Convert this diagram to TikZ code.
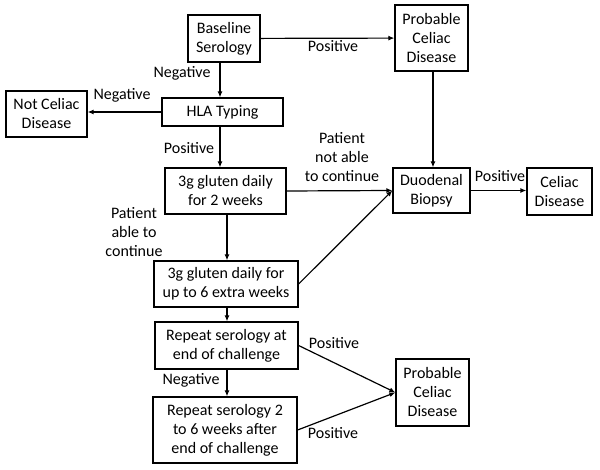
\documentclass[tikz,border=0pt]{standalone}
\usepackage{fontspec}
\setmainfont{Carlito}
\usetikzlibrary{arrows.meta}
\begin{document}
\begin{tikzpicture}[x=1pt,y=-1pt,
  box/.style={draw,line width=1.2pt,align=center,inner sep=0pt,font=\fontsize{16}{19}\selectfont},
  lbl/.style={align=center,inner sep=0pt,font=\fontsize{16}{19}\selectfont},
  arr/.style={line width=1.2pt,-{Latex[length=6pt,width=5pt]}}]
\useasboundingbox (0,0) rectangle (600,470);
\node[box,minimum width=72pt,minimum height=47pt] (base) at (224,38.5) {Baseline\\Serology};
\node[box,minimum width=73pt,minimum height=66pt] (prob1) at (431.5,38) {Probable\\Celiac\\Disease};
\node[box,minimum width=121pt,minimum height=28pt] (hla) at (222.5,112) {HLA Typing};
\node[box,minimum width=81pt,minimum height=46pt] (notc) at (46.5,114) {Not Celiac\\Disease};
\node[box,minimum width=121pt,minimum height=46pt] (g2) at (225.5,191) {3g gluten daily\\for 2 weeks};
\node[box,minimum width=77pt,minimum height=45pt] (duo) at (431.5,190.5) {Duodenal\\Biopsy};
\node[box,minimum width=65pt,minimum height=47pt] (cel) at (559.5,191.5) {Celiac\\Disease};
\node[box,minimum width=144pt,minimum height=46pt] (ext) at (226,284) {3g gluten daily for\\up to 6 extra weeks};
\node[box,minimum width=143pt,minimum height=47pt] (rep) at (226.5,345.5) {Repeat serology at\\end of challenge};
\node[box,minimum width=144pt,minimum height=66pt] (rep2) at (225,430) {Repeat serology 2\\to 6 weeks after\\end of challenge};
\node[box,minimum width=73pt,minimum height=67pt] (prob2) at (432.5,392.5) {Probable\\Celiac\\Disease};
% labels
\node[lbl] (lpos1) at (333,46) {Positive};
\node[lbl] (lneg1) at (182,73) {Negative};
\node[lbl] (lneg2) at (122,95) {Negative};
\node[lbl] (lpos2) at (189,148) {Positive};
\node[lbl] (lnot) at (342,157) {Patient\\not able\\to continue};
\node[lbl] (lpos3) at (500,176) {Positive};
\node[lbl] (lable) at (134,232) {Patient\\able to\\continue};
\node[lbl] (lneg3) at (191,380) {Negative};
\node[lbl] (lpos4) at (334,343) {Positive};
\node[lbl] (lpos5) at (333,433) {Positive};
% connectors
\draw[arr] (base) -- (prob1);
\draw[arr] (base.south -| 220,0) -- (hla.north -| 220,0);
\draw[arr] (hla.west) -- (notc.east |- hla.west);
\draw[arr] (hla.south -| 220,0) -- (g2.north -| 220,0);
\draw[arr] (prob1.south -| 433,0) -- (duo.north -| 433,0);
\draw[arr] (g2.east) -- (duo.west);
\draw[arr] (duo.east) -- (cel.west |- duo.east);
\draw[arr] (g2.south -| 227,0) -- (ext.north -| 227,0);
\draw[arr] (ext.east) -- (duo.west);
\draw[arr] (ext.south -| 227,0) -- (rep.north -| 227,0);
\draw[arr] (rep.south -| 227,0) -- (rep2.north -| 227,0);
\draw[arr] (rep.east) -- (prob2.west);
\draw[arr] (rep2.east) -- (prob2.west);
\end{tikzpicture}
\end{document}
